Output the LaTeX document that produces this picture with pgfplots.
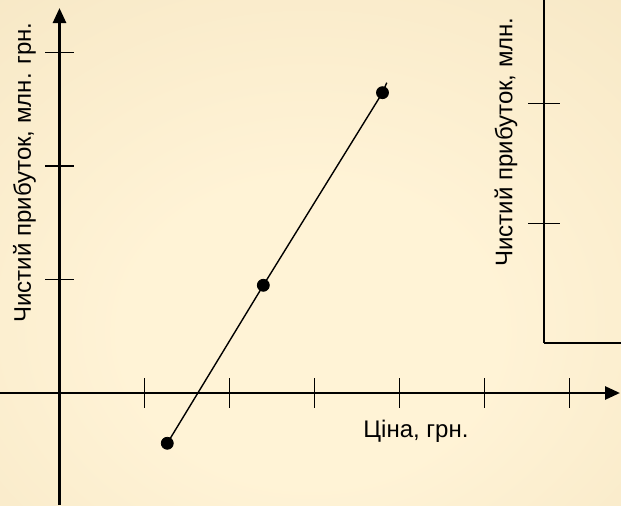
\documentclass[border=0pt]{standalone}
\usepackage{pgfplots}
\pgfplotsset{compat=1.18}
\usepackage{fontspec}
\setmainfont{Liberation Sans}
\usetikzlibrary{arrows.meta}
\definecolor{cin}{RGB}{255,243,214}
\definecolor{cout}{RGB}{236,217,176}
\pgfdeclareradialshading{bg}{\pgfpoint{0bp}{-10bp}}{color(0bp)=(cin); color(15bp)=(cin); color(75bp)=(cout)}
\begin{document}
\begin{tikzpicture}
\useasboundingbox (0,0) rectangle (310.5pt,252.5pt);
\shade[shading=bg] (0,0) rectangle (310.5pt,252.5pt);
\clip (0,0) rectangle (310.5pt,252.5pt);
\begin{axis}[
  at={(0,0)}, anchor=south west,
  scale only axis, width=310pt, height=248.5pt,
  xmin=-0.7, xmax=6.594, ymin=-0.9868, ymax=3.392,
  axis lines=middle,
  axis line style={black, line width=1.4pt, -{Triangle[length=7.5pt,width=6.5pt]}},
  xtick={1,2,3,4,5,6}, ytick={1,2,3},
  xticklabels={}, yticklabels={},
  tick align=center, major tick length=14.5pt,
  tick style={black, line width=0.9pt},
  clip=false,
  font=\fontsize{12}{14}\selectfont,
  xlabel={Ціна, грн.},
  ylabel={Чистий прибуток,  млн.  грн.},
  every axis x label/.style={at={(axis cs:4.194,-0.335)}, anchor=center, inner sep=0pt},
  every axis y label/.style={at={(axis cs:-0.412,1.943)}, anchor=center, rotate=90, inner sep=0pt},
]
\addplot[black, line width=0.7pt, no markers] coordinates {(1.268,-0.443) (2.398,0.949) (3.80,2.646) (3.85,2.734)};
\addplot[only marks, mark=*, mark size=3pt, black] coordinates {(1.268,-0.443) (2.398,0.949) (3.80,2.646)};
\end{axis}
\begin{axis}[
  at={(272pt,81pt)}, anchor=south west,
  scale only axis, width=48pt, height=176.5pt,
  xmin=0, xmax=1, ymin=0, ymax=2.95,
  axis lines=left,
  axis line style={black, line width=1pt, -},
  xtick=\empty, ytick={1,2}, yticklabels={},
  tick align=center, major tick length=16pt,
  tick style={black, line width=0.8pt},
]
\end{axis}
\node[rotate=90, anchor=west, inner sep=0pt, font=\fontsize{12}{14}\selectfont] at (253pt,119pt) {Чистий прибуток,  млн.};
\end{tikzpicture}
\end{document}
